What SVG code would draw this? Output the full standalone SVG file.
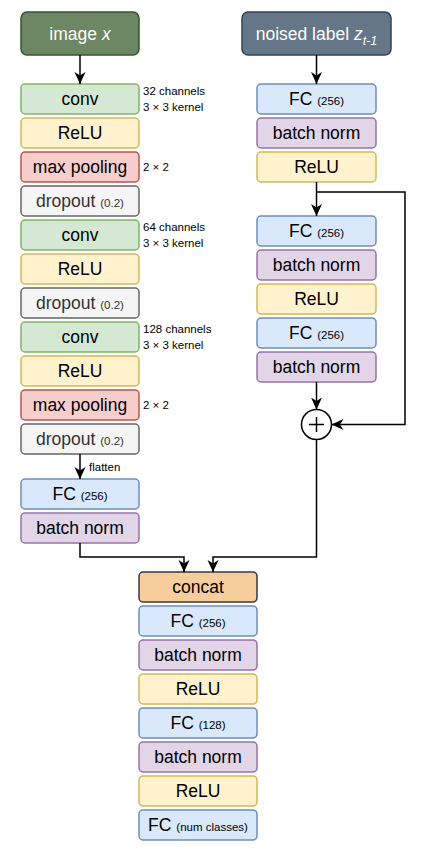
<svg xmlns="http://www.w3.org/2000/svg" width="427" height="848" viewBox="0 0 427 848">
<style>
text{font-family:"Liberation Sans",Arial,sans-serif;}
.t{font-size:17.5px;text-anchor:middle;fill:#000;}
.s{font-size:11.5px;}
.side{font-size:11.5px;fill:#000;}
.b{stroke-width:1.5;}
.conv{fill:#d5e8d4;stroke:#82b366;}
.relu{fill:#fff2cc;stroke:#d6b656;}
.pool{fill:#f8cecc;stroke:#b85450;}
.drop{fill:#f5f5f5;stroke:#666666;}
.fc{fill:#dae8fc;stroke:#6c8ebf;}
.bn{fill:#e1d5e7;stroke:#9673a6;}
.cat{fill:#f7cd9e;stroke:#36393d;}
.c{fill:none;stroke:#000;stroke-width:1.5;marker-end:url(#arr);}
</style>
<defs>
<marker id="arr" markerUnits="userSpaceOnUse" markerWidth="14" markerHeight="14" refX="12" refY="6" orient="auto" viewBox="0 0 14 12">
<path d="M0,0.5 L12,6 L0,11.5 L3.5,6 Z" fill="#000"/>
</marker>
</defs>
<rect width="427" height="848" fill="#fff"/>

<g id="image-x">
<rect x="21" y="12" width="118" height="43" rx="6" fill="#6d8764" stroke="#3a5431" stroke-width="1.5"/>
<text x="80" y="39.5" class="t" fill="#fff" style="fill:#fff">image <tspan font-style="italic">x</tspan></text>
</g>
<g id="noised-label">
<rect x="242" y="12" width="149" height="43" rx="6" fill="#647687" stroke="#314354" stroke-width="1.5"/>
<text x="316.5" y="39.5" class="t" style="fill:#fff">noised label <tspan font-style="italic">z</tspan><tspan font-style="italic" font-size="12.5" dy="5">t-1</tspan></text>
</g>

<g id="conv1"><rect x="21" y="84" width="118" height="30" rx="4" class="conv b"/><text x="80" y="105" class="t">conv</text></g>
<g id="relu1"><rect x="21" y="118" width="118" height="30" rx="4" class="relu b"/><text x="80" y="139" class="t">ReLU</text></g>
<g id="pool1"><rect x="21" y="152" width="118" height="30" rx="4" class="pool b"/><text x="80" y="173" class="t">max pooling</text></g>
<g id="drop1"><rect x="21" y="186" width="118" height="30" rx="4" class="drop b"/><text x="80" y="207" class="t" style="fill:#333">dropout <tspan class="s">(0.2)</tspan></text></g>
<g id="conv2"><rect x="21" y="220" width="118" height="30" rx="4" class="conv b"/><text x="80" y="241" class="t">conv</text></g>
<g id="relu2"><rect x="21" y="254" width="118" height="30" rx="4" class="relu b"/><text x="80" y="275" class="t">ReLU</text></g>
<g id="drop2"><rect x="21" y="288" width="118" height="30" rx="4" class="drop b"/><text x="80" y="309" class="t" style="fill:#333">dropout <tspan class="s">(0.2)</tspan></text></g>
<g id="conv3"><rect x="21" y="322" width="118" height="30" rx="4" class="conv b"/><text x="80" y="343" class="t">conv</text></g>
<g id="relu3"><rect x="21" y="356" width="118" height="30" rx="4" class="relu b"/><text x="80" y="377" class="t">ReLU</text></g>
<g id="pool2"><rect x="21" y="390" width="118" height="30" rx="4" class="pool b"/><text x="80" y="411" class="t">max pooling</text></g>
<g id="drop3"><rect x="21" y="424" width="118" height="30" rx="4" class="drop b"/><text x="80" y="445" class="t" style="fill:#333">dropout <tspan class="s">(0.2)</tspan></text></g>
<g id="fc-left"><rect x="21" y="479" width="118" height="30" rx="4" class="fc b"/><text x="80" y="500" class="t">FC <tspan class="s">(256)</tspan></text></g>
<g id="bn-left"><rect x="21" y="513" width="118" height="30" rx="4" class="bn b"/><text x="80" y="534" class="t">batch norm</text></g>

<g id="side-labels">
<text x="143" y="95" class="side">32 channels</text>
<text x="143" y="111" class="side">3 × 3 kernel</text>
<text x="143" y="171" class="side">2 × 2</text>
<text x="143" y="231" class="side">64 channels</text>
<text x="143" y="247" class="side">3 × 3 kernel</text>
<text x="143" y="333" class="side">128 channels</text>
<text x="143" y="349" class="side">3 × 3 kernel</text>
<text x="143" y="409" class="side">2 × 2</text>
<text x="89" y="471" class="side">flatten</text>
</g>

<g id="fc-r1"><rect x="257" y="84" width="119" height="30" rx="4" class="fc b"/><text x="316.5" y="105" class="t">FC <tspan class="s">(256)</tspan></text></g>
<g id="bn-r1"><rect x="257" y="118" width="119" height="30" rx="4" class="bn b"/><text x="316.5" y="139" class="t">batch norm</text></g>
<g id="relu-r1"><rect x="257" y="152" width="119" height="30" rx="4" class="relu b"/><text x="316.5" y="173" class="t">ReLU</text></g>
<g id="fc-r2"><rect x="257" y="216" width="119" height="30" rx="4" class="fc b"/><text x="316.5" y="237" class="t">FC <tspan class="s">(256)</tspan></text></g>
<g id="bn-r2"><rect x="257" y="250" width="119" height="30" rx="4" class="bn b"/><text x="316.5" y="271" class="t">batch norm</text></g>
<g id="relu-r2"><rect x="257" y="284" width="119" height="30" rx="4" class="relu b"/><text x="316.5" y="305" class="t">ReLU</text></g>
<g id="fc-r3"><rect x="257" y="318" width="119" height="30" rx="4" class="fc b"/><text x="316.5" y="339" class="t">FC <tspan class="s">(256)</tspan></text></g>
<g id="bn-r3"><rect x="257" y="352" width="119" height="30" rx="4" class="bn b"/><text x="316.5" y="373" class="t">batch norm</text></g>
<g id="add">
<circle cx="316.5" cy="424.5" r="15" fill="#fff" stroke="#000" stroke-width="1.5"/>
<path d="M309,424.5 H324 M316.5,417 V432" stroke="#000" stroke-width="1.5" fill="none"/>
</g>

<g id="concat"><rect x="139" y="572" width="118" height="30" rx="4" class="cat b"/><text x="198" y="593" class="t">concat</text></g>
<g id="fc-b1"><rect x="139" y="606" width="118" height="30" rx="4" class="fc b"/><text x="198" y="627" class="t">FC <tspan class="s">(256)</tspan></text></g>
<g id="bn-b1"><rect x="139" y="640" width="118" height="30" rx="4" class="bn b"/><text x="198" y="661" class="t">batch norm</text></g>
<g id="relu-b1"><rect x="139" y="674" width="118" height="30" rx="4" class="relu b"/><text x="198" y="695" class="t">ReLU</text></g>
<g id="fc-b2"><rect x="139" y="708" width="118" height="30" rx="4" class="fc b"/><text x="198" y="729" class="t">FC <tspan class="s">(128)</tspan></text></g>
<g id="bn-b2"><rect x="139" y="742" width="118" height="30" rx="4" class="bn b"/><text x="198" y="763" class="t">batch norm</text></g>
<g id="relu-b2"><rect x="139" y="776" width="118" height="30" rx="4" class="relu b"/><text x="198" y="797" class="t">ReLU</text></g>
<g id="fc-b3"><rect x="139" y="810" width="118" height="30" rx="4" class="fc b"/><text x="198" y="831" class="t">FC <tspan class="s">(num classes)</tspan></text></g>

<g id="connectors">
<path class="c" d="M80,55 L80,84"/>
<path class="c" d="M80,454 L80,479"/>
<path class="c" d="M80,543 L80,557 L184,557 L184,572"/>
<path class="c" d="M316.5,55 L316.5,84"/>
<path class="c" d="M316.5,182 L316.5,216"/>
<path class="c" d="M316.5,192 L405,192 L405,424.5 L331.5,424.5"/>
<path class="c" d="M316.5,382 L316.5,409.5"/>
<path class="c" d="M316.5,439.5 L316.5,557 L213,557 L213,572"/>
</g>
</svg>
